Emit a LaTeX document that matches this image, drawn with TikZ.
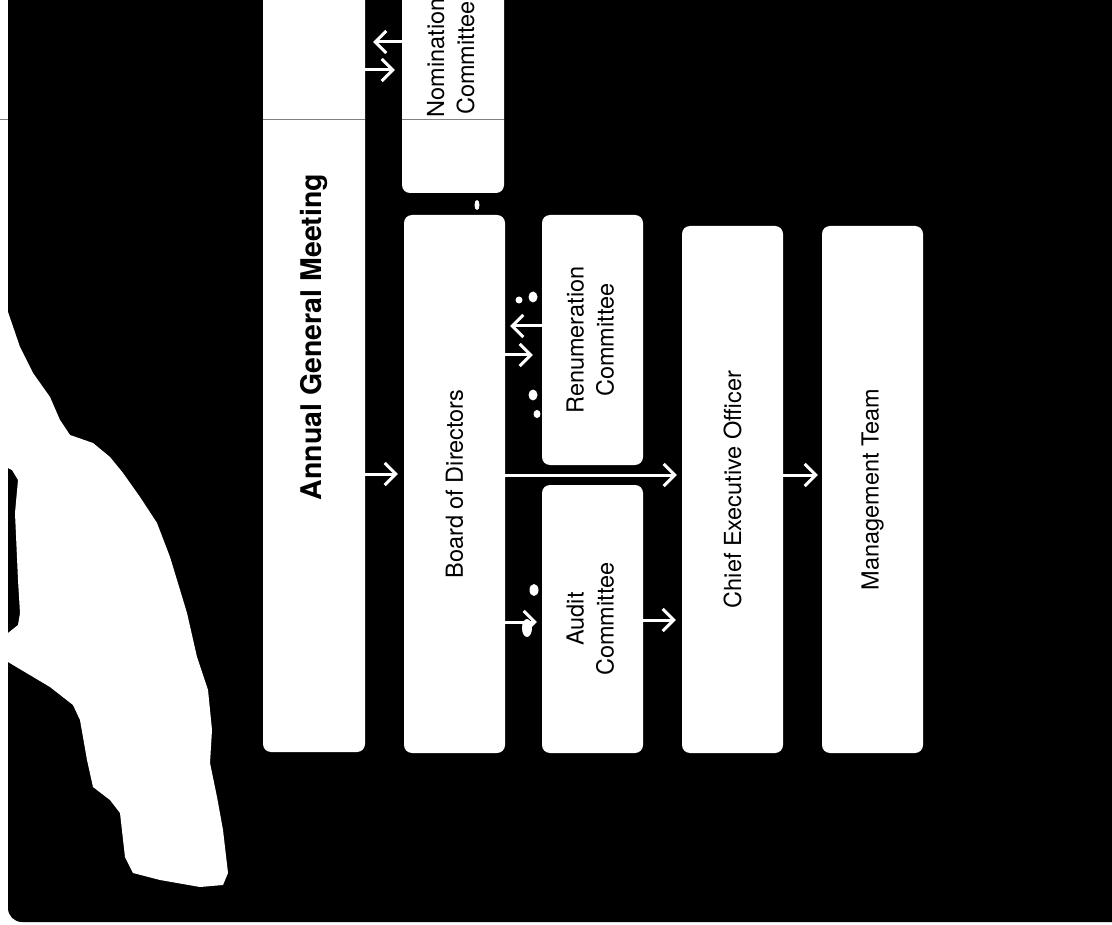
\documentclass[tikz,border=0pt]{standalone}
\usepackage{fontspec}
\setmainfont{TeX Gyre Heros}
\usetikzlibrary{arrows.meta}
\definecolor{rulegray}{RGB}{128,128,128}
\begin{document}
\begin{tikzpicture}[x=1pt,y=-1pt,
  box/.style={draw=none, fill=white, rounded corners=8pt, inner sep=0pt,
    font=\fontsize{23.5}{30}\selectfont, align=center},
  arr/.style={draw=white, line width=3pt,
    -{Straight Barb[length=11pt,width=22pt,line width=3pt]}},
  speck/.style={fill=white}]
\useasboundingbox (0,0) rectangle (1112,925);
\clip (0,0) rectangle (1112,925);
\fill[white] (0,0) rectangle (1112,925);
\fill[black, rounded corners=14pt] (8,-40) -- (8,922) -- (1150,922) -- (1150,-40) -- cycle;
% white blob on the left
\fill[white] (8,312) -- (20,347) -- (33,373) -- (50,397) -- (60,420) -- (70,435)
  -- (93,443) -- (110,457) -- (123,473) -- (140,497) -- (157,523) -- (170,557)
  -- (177,580) -- (187,613) -- (197,657) -- (208,690) -- (212,730) -- (210,763)
  -- (217,797) -- (223,830) -- (228,873) -- (223,885) -- (200,887) -- (160,880)
  -- (133,873) -- (125,857) -- (120,813) -- (110,800) -- (93,787) -- (87,760)
  -- (80,720) -- (73,705) -- (50,687) -- (8,662) -- (8,633) -- (18,625)
  -- (20,613) -- (18,580) -- (15,513) -- (18,480) -- (12,470) -- (8,468) -- cycle;
% boxes
\node[box, minimum width=102pt, minimum height=830pt] (agm) at (314,337)
  {\rotatebox{90}{\bfseries\fontsize{28.5}{34}\selectfont Annual General Meeting}};
\node[box, minimum width=102pt, minimum height=270pt] (nom) at (453,58)
  {\rotatebox{90}{\begin{tabular}{@{}c@{}}Nomination\\Committee\end{tabular}}};
\node[box, minimum width=101pt, minimum height=538pt] (board) at (454.5,484)
  {\rotatebox{90}{Board of Directors}};
\node[box, minimum width=101pt, minimum height=250pt] (renum) at (592.5,340)
  {\rotatebox{90}{\begin{tabular}{@{}c@{}}Renumeration\\Committee\end{tabular}}};
\node[box, minimum width=101pt, minimum height=268pt] (audit) at (592.5,619)
  {\rotatebox{90}{\begin{tabular}{@{}c@{}}Audit\\Committee\end{tabular}}};
\node[box, minimum width=101pt, minimum height=527pt] (ceo) at (732.5,489.5)
  {\rotatebox{90}{Chief Executive Officer}};
\node[box, minimum width=101pt, minimum height=527pt] (mgmt) at (872.5,489.5)
  {\rotatebox{90}{Management Team}};
% thin gray rule
\draw[rulegray, line width=1pt] (0,120) -- (8,120);
\draw[rulegray, line width=1pt] (agm.west |- 0,120) -- (agm.east |- 0,120);
\draw[rulegray, line width=1pt] (nom.west |- 0,120) -- (nom.east |- 0,120);
% connectors
\draw[arr, shorten >=6pt] (agm.east |- 0,474) -- (board.west |- 0,474);
\draw[arr, shorten >=7pt] (agm.east |- 0,70) -- (nom.west |- 0,70);
\draw[arr, shorten >=8pt] (nom.west |- 0,42) -- (agm.east |- 0,42);
\draw[arr, shorten >=9pt] (board.east |- 0,355) -- (renum.west |- 0,355);
\draw[arr, shorten >=5pt] (renum.west |- 0,326) -- (board.east |- 0,326);
\draw[arr, shorten >=5pt] (board.east |- 0,475) -- (ceo.west |- 0,475);
\draw[arr, shorten >=5pt] (board.east |- 0,622) -- (audit.west |- 0,622);
\draw[arr, shorten >=6pt] (audit.east |- 0,620) -- (ceo.west |- 0,620);
\draw[arr, shorten >=4pt] (ceo.east |- 0,475) -- (mgmt.west |- 0,475);
% specks
\fill[speck] (533,297) ellipse (4.5pt and 5.5pt);
\fill[speck] (519,300) ellipse (3.5pt and 3.5pt);
\fill[speck] (533,395) ellipse (4.5pt and 5.5pt);
\fill[speck] (537,414) ellipse (3.5pt and 4pt);
\fill[speck] (534,590) ellipse (4.5pt and 6pt);
\fill[speck] (527,628) ellipse (5pt and 9pt);
\fill[speck] (477,205) ellipse (2.5pt and 5pt);
\end{tikzpicture}
\end{document}
